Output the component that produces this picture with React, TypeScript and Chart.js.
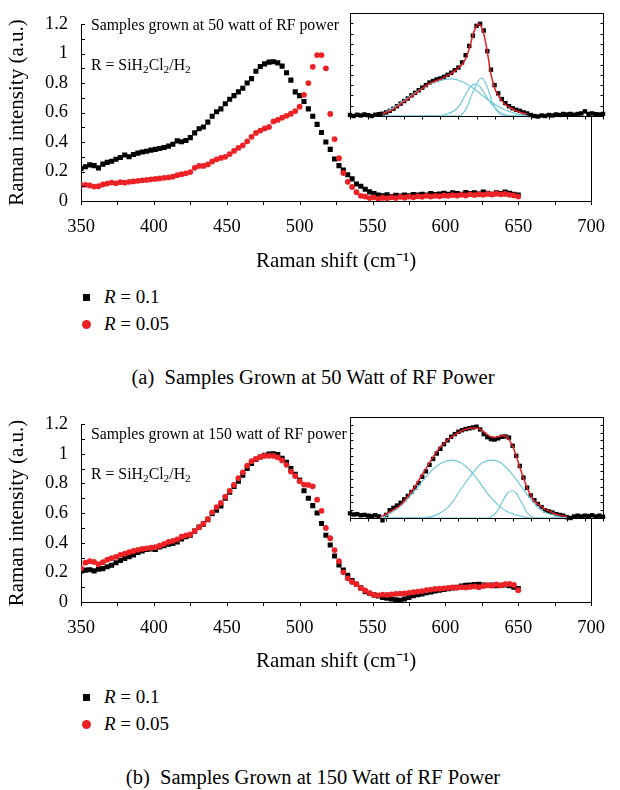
import React, { useEffect, useRef } from 'react';
import { Chart, registerables } from 'chart.js';

Chart.register(...registerables);

const FONT = "'Liberation Serif', 'Times New Roman', serif";

// ---------------- main panels: Raman shift (cm^-1) ----------------
const shift = [
  350, 353, 356, 359, 362, 365, 368, 371, 374, 377,
  380, 383, 386, 389, 392, 395, 398, 401, 404, 407,
  410, 413, 416, 419, 422, 425, 428, 431, 434, 437,
  440, 443, 446, 449, 452, 455, 458, 461, 464, 467,
  470, 473, 476, 479, 482, 485, 488, 491, 494, 497,
  500, 503, 506, 509, 512, 515, 518, 521, 524, 527,
  530, 533, 536, 539, 542, 545, 548, 551, 554, 557,
  560, 563, 566, 569, 572, 575, 578, 581, 584, 587,
  590, 593, 596, 599, 602, 605, 608, 611, 614, 617,
  620, 623, 626, 629, 632, 635, 638, 641, 644, 647,
  650,
];

// (a) 50 W
const a_R01 = [
  0.220, 0.232, 0.245, 0.240, 0.225, 0.250, 0.262, 0.270, 0.283, 0.295,
  0.312, 0.300, 0.315, 0.325, 0.332, 0.338, 0.345, 0.350, 0.356, 0.363,
  0.372, 0.385, 0.408, 0.402, 0.410, 0.430, 0.462, 0.490, 0.502, 0.535,
  0.575, 0.605, 0.625, 0.660, 0.690, 0.715, 0.740, 0.765, 0.800, 0.830,
  0.880, 0.912, 0.930, 0.942, 0.945, 0.937, 0.915, 0.870, 0.820, 0.740,
  0.715, 0.675, 0.625, 0.575, 0.520, 0.465, 0.400, 0.350, 0.285, 0.240,
  0.210, 0.178, 0.150, 0.115, 0.100, 0.080, 0.062, 0.050, 0.040, 0.035,
  0.042, 0.030, 0.038, 0.034, 0.040, 0.036, 0.044, 0.040, 0.046, 0.040,
  0.050, 0.043, 0.048, 0.052, 0.046, 0.055, 0.050, 0.045, 0.058, 0.050,
  0.055, 0.048, 0.060, 0.052, 0.045, 0.056, 0.050, 0.060, 0.052, 0.046,
  0.040,
];
const a_R005 = [
  0.108, 0.110, 0.105, 0.098, 0.100, 0.112, 0.118, 0.125, 0.120, 0.128,
  0.124, 0.130, 0.133, 0.137, 0.140, 0.143, 0.147, 0.150, 0.153, 0.157,
  0.160, 0.165, 0.175, 0.182, 0.188, 0.196, 0.225, 0.238, 0.238, 0.248,
  0.268, 0.283, 0.292, 0.300, 0.318, 0.340, 0.360, 0.378, 0.405, 0.435,
  0.462, 0.478, 0.492, 0.502, 0.540, 0.550, 0.565, 0.578, 0.592, 0.610,
  0.640, 0.720, 0.800, 0.910, 0.990, 0.990, 0.900, 0.590, 0.420, 0.290,
  0.190, 0.130, 0.095, 0.060, 0.035, 0.030, 0.020, 0.025, 0.015, 0.022,
  0.018, 0.025, 0.020, 0.028, 0.022, 0.030, 0.025, 0.032, 0.028, 0.035,
  0.030, 0.035, 0.032, 0.038, 0.035, 0.040, 0.036, 0.042, 0.038, 0.045,
  0.040, 0.046, 0.042, 0.048, 0.044, 0.050, 0.045, 0.048, 0.042, 0.038,
  0.030,
];

// (b) 150 W
const b_R01 = [
  0.207, 0.215, 0.218, 0.210, 0.222, 0.225, 0.238, 0.248, 0.265, 0.280,
  0.293, 0.305, 0.318, 0.335, 0.345, 0.355, 0.358, 0.355, 0.372, 0.380,
  0.390, 0.395, 0.405, 0.425, 0.440, 0.450, 0.478, 0.505, 0.525, 0.555,
  0.595, 0.620, 0.648, 0.700, 0.740, 0.780, 0.815, 0.855, 0.900, 0.935,
  0.962, 0.978, 0.990, 0.998, 1.000, 0.995, 0.970, 0.942, 0.900, 0.862,
  0.822, 0.750, 0.700, 0.650, 0.600, 0.530, 0.450, 0.385, 0.310, 0.250,
  0.215, 0.180, 0.145, 0.120, 0.095, 0.070, 0.058, 0.048, 0.040, 0.030,
  0.025, 0.020, 0.015, 0.012, 0.020, 0.030, 0.042, 0.050, 0.055, 0.062,
  0.068, 0.075, 0.080, 0.085, 0.090, 0.095, 0.100, 0.108, 0.112, 0.115,
  0.118, 0.120, 0.115, 0.112, 0.115, 0.110, 0.112, 0.115, 0.110, 0.100,
  0.090,
];
const b_R005 = [
  0.228, 0.265, 0.275, 0.270, 0.255, 0.268, 0.285, 0.295, 0.305, 0.318,
  0.326, 0.336, 0.344, 0.352, 0.358, 0.362, 0.366, 0.370, 0.380, 0.392,
  0.405, 0.412, 0.422, 0.440, 0.450, 0.456, 0.480, 0.505, 0.528, 0.560,
  0.605, 0.640, 0.668, 0.710, 0.750, 0.790, 0.835, 0.875, 0.920, 0.950,
  0.966, 0.978, 0.985, 0.986, 0.985, 0.975, 0.955, 0.925, 0.880, 0.850,
  0.815, 0.792, 0.790, 0.780, 0.690, 0.615, 0.500, 0.430, 0.350, 0.275,
  0.200, 0.160, 0.135, 0.120, 0.095, 0.078, 0.060, 0.048, 0.045, 0.050,
  0.048, 0.052, 0.055, 0.056, 0.058, 0.062, 0.066, 0.070, 0.074, 0.080,
  0.084, 0.088, 0.090, 0.092, 0.095, 0.098, 0.096, 0.100, 0.098, 0.102,
  0.105, 0.100, 0.108, 0.112, 0.110, 0.118, 0.112, 0.120, 0.122, 0.115,
  0.080,
];

const xTickLabels = ['350', '400', '450', '500', '550', '600', '650', '700'];
const yTickLabels = ['0', '0.2', '0.4', '0.6', '0.8', '1', '1.2'];

// ---------------- insets (deconvolution) ----------------
const insetShift = [
  350, 355, 360, 365, 370, 375, 380, 385, 390, 395,
  400, 405, 410, 415, 420, 425, 430, 435, 440, 445,
  450, 455, 460, 465, 470, 475, 480, 485, 490, 495,
  500, 505, 510, 515, 520, 525, 530, 535, 540, 545,
  550, 555, 560, 565, 570, 575, 580, 585, 590, 595,
  600, 605, 610, 615, 620, 625, 630, 635, 640, 645,
  650, 655, 660, 665, 670, 675, 680, 685, 690, 695,
  700,
];
const insetA_data = [
  0.010, 0.000, 0.012, 0.005, 0.015, 0.008, 0.000, 0.012, 0.018, 0.022,
  0.035, 0.050, 0.070, 0.095, 0.120, 0.145, 0.170, 0.200, 0.225, 0.250,
  0.275, 0.300, 0.325, 0.340, 0.355, 0.365, 0.380, 0.400, 0.420, 0.445,
  0.470, 0.520, 0.590, 0.680, 0.780, 0.875, 0.895, 0.830, 0.630, 0.450,
  0.300, 0.220, 0.165, 0.125, 0.095, 0.075, 0.060, 0.050, 0.035, 0.025,
  0.010, 0.000, -0.005, 0.005, 0.000, 0.010, 0.005, 0.015, 0.010, 0.020,
  0.015, 0.020, 0.012, 0.020, 0.025, 0.045, 0.020, 0.025, 0.018, 0.015,
  0.020,
];
const insetA_fitX = [395, 410, 420, 440, 460, 479, 497.5, 505, 511, 516, 520.6, 524, 527.5, 530, 532, 535, 538, 541, 543.6, 547, 550.5, 555, 560, 565, 571, 580, 590, 595];
const insetA_fitY = [0.02, 0.065, 0.115, 0.215, 0.315, 0.37, 0.45, 0.5, 0.57, 0.68, 0.8, 0.86, 0.893, 0.885, 0.86, 0.8, 0.7, 0.58, 0.456, 0.35, 0.262, 0.2, 0.149, 0.11, 0.084, 0.05, 0.026, 0.02];
const insetA_c1X = [395, 414.6, 437.6, 460.6, 479, 490.6, 506.8, 525, 543.6, 562, 580.6, 595];
const insetA_c1Y = [0.02, 0.1, 0.214, 0.31, 0.353, 0.36, 0.327, 0.246, 0.143, 0.068, 0.02, 0.005];
const insetA_c2X = [395, 470, 479, 490, 497.5, 503, 509, 516, 523, 530, 539, 545, 550.5, 556, 562, 576, 595];
const insetA_c2Y = [0, 0.003, 0.01, 0.035, 0.068, 0.12, 0.197, 0.28, 0.31, 0.284, 0.187, 0.125, 0.084, 0.045, 0.02, 0.002, 0];
const insetA_c3X = [395, 495, 502, 508, 513.7, 518, 523, 528, 532, 536, 539, 543, 546, 550, 553, 558, 562, 570, 595];
const insetA_c3Y = [0, 0, 0.005, 0.04, 0.117, 0.2, 0.28, 0.345, 0.369, 0.34, 0.294, 0.22, 0.149, 0.09, 0.051, 0.02, 0.005, 0, 0];

const insetB_data = [
  0.060, 0.045, 0.050, 0.035, 0.040, 0.030, 0.025, 0.035, 0.020, -0.030,
  0.040, 0.100, 0.130, 0.160, 0.195, 0.240, 0.285, 0.335, 0.390, 0.450,
  0.530, 0.600, 0.685, 0.760, 0.830, 0.890, 0.950, 1.000, 1.045, 1.080,
  1.110, 1.130, 1.145, 1.155, 1.165, 1.175, 1.140, 1.080, 1.040, 1.015,
  1.010, 1.025, 1.045, 1.050, 1.035, 0.930, 0.800, 0.670, 0.520, 0.390,
  0.290, 0.230, 0.180, 0.140, 0.100, 0.085, 0.070, 0.050, 0.040, 0.030,
  0.010, 0.000, 0.020, 0.030, 0.020, 0.030, 0.025, 0.035, 0.020, 0.030,
  0.015,
];
const insetB_fitX = [392, 405, 419, 437.6, 456, 474.5, 493, 511, 525, 532, 539, 545, 550.5, 556, 562, 566, 571, 576, 580.6, 585, 589.7, 594, 599, 605, 612.8, 620, 626.6, 635, 645, 650];
const insetB_fitY = [0.01, 0.08, 0.16, 0.373, 0.652, 0.91, 1.06, 1.145, 1.158, 1.13, 1.08, 1.045, 1.04, 1.05, 1.06, 1.055, 0.995, 0.9, 0.78, 0.65, 0.524, 0.41, 0.31, 0.22, 0.158, 0.11, 0.086, 0.05, 0.026, 0.02];
const insetB_c1X = [391.5, 400, 414.6, 425, 437.6, 450, 460.6, 470, 479, 490.6, 502, 511, 520.6, 530, 539, 548, 557.5, 566, 576, 590, 599, 650];
const insetB_c1Y = [0, 0.03, 0.116, 0.2, 0.33, 0.47, 0.588, 0.67, 0.717, 0.746, 0.717, 0.66, 0.566, 0.45, 0.33, 0.23, 0.146, 0.09, 0.05, 0.015, 0, 0];
const insetB_c2X = [391.5, 450, 460.6, 472, 483.6, 493, 502, 511, 520.6, 528, 534.4, 546, 557.5, 566, 576, 585, 594.4, 603, 612.8, 622, 631.2, 640, 650];
const insetB_c2Y = [0, 0.005, 0.015, 0.05, 0.12, 0.22, 0.351, 0.47, 0.588, 0.67, 0.717, 0.746, 0.717, 0.65, 0.545, 0.43, 0.31, 0.21, 0.116, 0.065, 0.04, 0.015, 0];
const insetB_c3X = [391.5, 540, 546, 552.7, 558, 564, 569, 574.6, 580, 584.7, 589, 594.4, 600, 605.9, 650];
const insetB_c3Y = [0, 0, 0.02, 0.077, 0.16, 0.266, 0.33, 0.351, 0.32, 0.245, 0.17, 0.077, 0.025, 0, 0];

const BLACK = '#000000';
const RED_DOT = '#ec2227';
const RED_FIT = '#e11f26';
const CYAN = '#72c9d8';

const pts = (xs: number[], ys: number[]) => xs.map((x, i) => ({ x, y: ys[i] }));

// ---------------- main panel ----------------
const mainFrame = {
  id: 'mainFrame',
  afterDraw(chart: any) {
    const { ctx, chartArea: a, scales } = chart;
    ctx.save();
    ctx.strokeStyle = BLACK;
    ctx.lineWidth = 1;
    ctx.beginPath();
    scales.y.ticks.forEach((t: any) => {
      const y = Math.round(scales.y.getPixelForValue(t.value)) + 0.5;
      ctx.moveTo(a.left, y);
      ctx.lineTo(a.left + 4, y);
    });
    scales.x.ticks.forEach((t: any) => {
      const x = Math.round(scales.x.getPixelForValue(t.value)) + 0.5;
      ctx.moveTo(x, a.bottom);
      ctx.lineTo(x, a.bottom + 4);
    });
    const rx = Math.round(a.right) + 0.5;
    ctx.moveTo(rx, a.top);
    ctx.lineTo(rx, a.bottom + 4);
    ctx.stroke();
    ctx.restore();
  },
};

function MainPanel({ r01, r005, top, areaTop, areaBottom }: { r01: number[]; r005: number[]; top: number; areaTop: number; areaBottom: number }) {
  const ref = useRef<HTMLCanvasElement>(null);
  const H = 280;
  useEffect(() => {
    const chart = new Chart(ref.current as HTMLCanvasElement, {
      type: 'scatter',
      data: {
        datasets: [
          { label: 'R = 0.1', data: pts(shift, r01), pointStyle: 'rect', pointRadius: 3.6, backgroundColor: BLACK, borderColor: BLACK, borderWidth: 0, order: 2 },
          { label: 'R = 0.05', data: pts(shift, r005), pointStyle: 'circle', pointRadius: 2.9, backgroundColor: RED_DOT, borderColor: RED_DOT, borderWidth: 0, order: 1 },
        ],
      },
      options: {
        responsive: false,
        animation: false,
        devicePixelRatio: 1,
        layout: { padding: { left: 0, right: 17, top: areaTop, bottom: 0 } },
        plugins: { legend: { display: false }, tooltip: { enabled: false } },
        scales: {
          x: {
            type: 'linear', min: 350, max: 700,
            grid: { display: false, drawTicks: false },
            border: { display: true, color: BLACK, width: 1 },
            ticks: {
              stepSize: 25, autoSkip: false, maxRotation: 0, padding: 15, color: BLACK,
              font: { family: FONT, size: 18.5 },
              callback: (v: any) => { const k = Math.round((Number(v) - 350) / 25); return k % 2 === 0 ? xTickLabels[k / 2] : ''; },
            },
            title: { display: true, text: 'Raman shift (cm⁻¹)', color: BLACK, font: { family: FONT, size: 21 }, padding: { top: 0, bottom: 6 } },
            afterFit: (s: any) => { s.height = H - areaBottom; },
          },
          y: {
            type: 'linear', min: 0, max: 1.2,
            grid: { display: false, drawTicks: false },
            border: { display: true, color: BLACK, width: 1 },
            ticks: {
              stepSize: 0.1, autoSkip: false, padding: 13, color: BLACK,
              font: { family: FONT, size: 18.5 },
              callback: (v: any) => { const k = Math.round(Number(v) * 10); return k % 2 === 0 ? yTickLabels[k / 2] : ''; },
            },
            title: { display: true, text: 'Raman intensity (a.u.)', color: BLACK, font: { family: FONT, size: 21 }, padding: { top: 5, bottom: 0 } },
            afterFit: (s: any) => { s.width = 81; },
          },
        },
      },
      plugins: [mainFrame],
    } as any);
    return () => chart.destroy();
  }, []);
  return <canvas ref={ref} width={620} height={H} style={{ position: 'absolute', left: 0, top, width: 620, height: H }} />;
}

// ---------------- inset ----------------
const insetFrame = {
  id: 'insetFrame',
  beforeDraw(chart: any) {
    const { ctx, chartArea: a } = chart;
    ctx.save();
    ctx.fillStyle = '#ffffff';
    ctx.fillRect(a.left, a.top, a.right - a.left, a.bottom - a.top);
    ctx.restore();
  },
  afterDraw(chart: any) {
    const { ctx, chartArea: a, scales } = chart;
    const l = Math.round(a.left) + 0.5, r = Math.round(a.right) + 0.5;
    const t = Math.round(a.top) + 0.5, b = Math.round(a.bottom) + 0.5;
    ctx.save();
    ctx.strokeStyle = BLACK;
    ctx.lineWidth = 1;
    ctx.beginPath();
    ctx.moveTo(l, b); ctx.lineTo(l, t); ctx.lineTo(r, t); ctx.lineTo(r, b); ctx.lineTo(l, b);
    const xs = scales.x, ys = scales.y;
    for (let v = xs.min; v <= xs.max + 1e-6; v += 25) {
      const x = Math.round(xs.getPixelForValue(v)) + 0.5;
      ctx.moveTo(x, b); ctx.lineTo(x, b + 3);
    }
    for (let v = ys.min; v <= ys.max + 1e-6; v += 0.1) {
      const y = Math.round(ys.getPixelForValue(v)) + 0.5;
      ctx.moveTo(l, y); ctx.lineTo(l + 3, y);
      ctx.moveTo(r, y); ctx.lineTo(r - 3, y);
    }
    ctx.stroke();
    ctx.restore();
  },
};

function Inset({ data, fitX, fitY, comps, yMax, left, top, width, height }: any) {
  const ref = useRef<HTMLCanvasElement>(null);
  const W = width + 10, Hh = height + 10;
  useEffect(() => {
    const lineDs = (xs: number[], ys: number[], color: string, w: number, order: number) => ({
      data: pts(xs, ys), showLine: true, pointRadius: 0, borderColor: color, borderWidth: w,
      cubicInterpolationMode: 'monotone', order, clip: false,
    });
    const chart = new Chart(ref.current as HTMLCanvasElement, {
      type: 'scatter',
      data: {
        datasets: [
          lineDs(fitX, fitY, RED_FIT, 1.5, 1),
          ...comps.map((c: any) => lineDs(c[0], c[1], CYAN, 1.2, 2)),
          { data: pts(insetShift, data), pointStyle: 'rect', pointRadius: 3.1, backgroundColor: BLACK, borderColor: BLACK, borderWidth: 0, order: 5, clip: false },
        ],
      },
      options: {
        responsive: false,
        animation: false,
        devicePixelRatio: 1,
        layout: { padding: 5 },
        plugins: { legend: { display: false }, tooltip: { enabled: false } },
        scales: {
          x: { type: 'linear', display: false, min: 350, max: 700 },
          y: { type: 'linear', display: false, min: 0, max: yMax },
        },
      },
      plugins: [insetFrame],
    } as any);
    return () => chart.destroy();
  }, []);
  return <canvas ref={ref} width={W} height={Hh} style={{ position: 'absolute', left: left - 5, top: top - 5, width: W, height: Hh }} />;
}

// ---------------- text helpers ----------------
const txt = (extra: any) => ({ position: 'absolute' as const, fontFamily: FONT, color: BLACK, whiteSpace: 'nowrap' as const, ...extra });
const subStyle = { fontSize: '0.72em', verticalAlign: '-0.25em' };

function Annot({ power, top }: { power: string; top: number }) {
  return (
    <>
      <div style={txt({ left: 91, top: top - 10, fontSize: 15.8, lineHeight: '20px' })}>Samples grown at {power} watt of RF power</div>
      <div style={txt({ left: 91, top: top + 30, fontSize: 15.8, lineHeight: '20px' })}>
        R = SiH<span style={subStyle}>2</span>Cl<span style={subStyle}>2</span>/H<span style={subStyle}>2</span>
      </div>
    </>
  );
}

function Legend({ top }: { top: number }) {
  return (
    <>
      <div style={{ position: 'absolute', left: 83, top: top - 3.5, width: 7, height: 7, background: BLACK }} />
      <div style={txt({ left: 104, top: top - 11, fontSize: 19, lineHeight: '22px' })}><i>R</i> = 0.1</div>
      <div style={{ position: 'absolute', left: 82, top: top + 27 - 4.5, width: 9, height: 9, borderRadius: '50%', background: RED_DOT }} />
      <div style={txt({ left: 104, top: top + 27 - 11, fontSize: 19, lineHeight: '22px' })}><i>R</i> = 0.05</div>
    </>
  );
}

function Caption({ letter, power, top }: { letter: string; power: string; top: number }) {
  return (
    <div style={txt({ left: 0, width: 626, textAlign: 'center', top: top - 12, fontSize: 20.5, lineHeight: '24px' })}>
      ({letter})&nbsp;&nbsp;Samples Grown at {power} Watt of RF Power
    </div>
  );
}

export default function App() {
  return (
    <div style={{ position: 'absolute', left: 0, top: 0, width: 620, height: 790, background: '#ffffff', overflow: 'hidden' }}>
      <MainPanel r01={a_R01} r005={a_R005} top={0} areaTop={12} areaBottom={201} />
      <Inset data={insetA_data} fitX={insetA_fitX} fitY={insetA_fitY}
        comps={[[insetA_c1X, insetA_c1Y], [insetA_c2X, insetA_c2Y], [insetA_c3X, insetA_c3Y]]}
        yMax={1} left={350} top={13} width={253} height={103} />
      <Annot power="50" top={25} />
      <Legend top={297} />
      <Caption letter="a" power="50" top={377} />

      <MainPanel r01={b_R01} r005={b_R005} top={400} areaTop={16} areaBottom={202} />
      <Inset data={insetB_data} fitX={insetB_fitX} fitY={insetB_fitY}
        comps={[[insetB_c1X, insetB_c1Y], [insetB_c2X, insetB_c2Y], [insetB_c3X, insetB_c3Y]]}
        yMax={1.3} left={350} top={417} width={253} height={101} />
      <Annot power="150" top={434} />
      <Legend top={697} />
      <Caption letter="b" power="150" top={777} />
    </div>
  );
}
